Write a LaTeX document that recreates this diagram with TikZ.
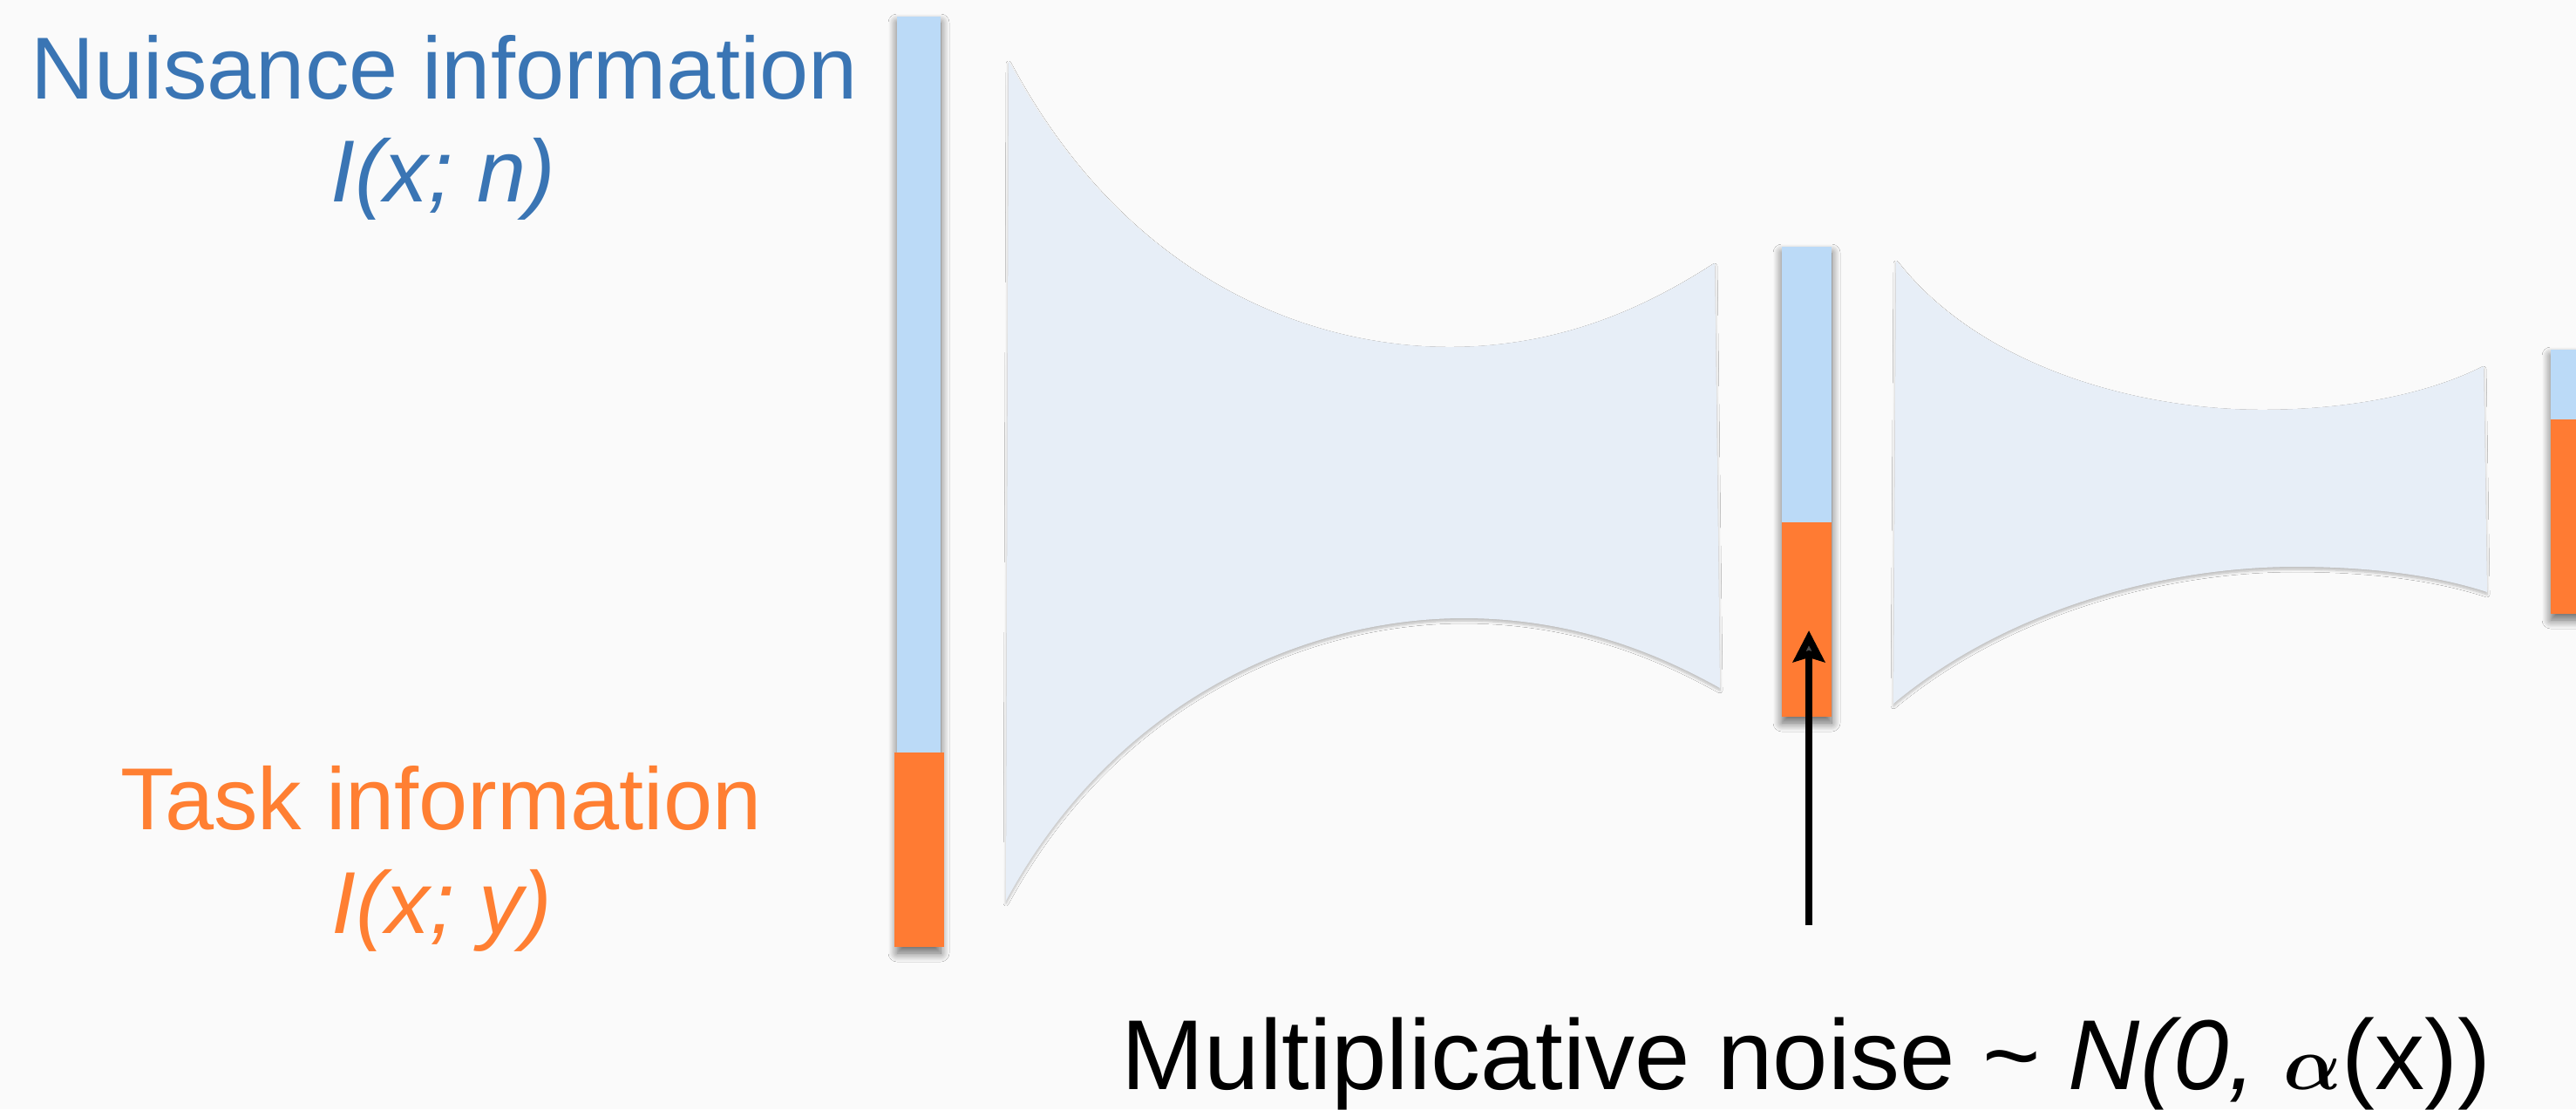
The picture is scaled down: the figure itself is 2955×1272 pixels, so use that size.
\documentclass[tikz,border=0pt]{standalone}
\usepackage{amsmath}
\usepackage{fontspec}
\setmainfont{Liberation Sans}
\usetikzlibrary{arrows.meta,shadows.blur}
\definecolor{bg}{HTML}{FAFAFA}
\definecolor{barblue}{HTML}{BBDAF7}
\definecolor{barorange}{HTML}{FF7B33}
\definecolor{funnelfill}{HTML}{E7EEF7}
\definecolor{txtblue}{HTML}{3A75B4}
\definecolor{txtorange}{HTML}{FF7F32}
\begin{document}
\begin{tikzpicture}[x=0.01cm,y=-0.01cm,
  barshade/.style={blur shadow={shadow xshift=0pt, shadow yshift=-0.07cm, shadow blur radius=0.1cm, shadow opacity=60, shadow blur steps=12}},
  funnelshade/.style={blur shadow={shadow xshift=0pt, shadow yshift=-0.03cm, shadow blur radius=0.03cm, shadow opacity=25, shadow blur steps=6}},
  lbl/.style={anchor=base, inner sep=0pt, font=\fontsize{28.7}{34}\selectfont},
  noisearrow/.style={line width=0.08cm, -{Stealth[length=0.36cm,width=0.36cm,inset=0.05cm]}}
]
\useasboundingbox (0,0) rectangle (2955,1272);
\clip (0,0) rectangle (2955,1272);
\fill[bg] (0,0) rectangle (2955,1272);

% funnels
\path[funnelshade, fill=funnelfill] (1157,70) .. controls (1290,320) and (1500,398) .. (1663,398)
  .. controls (1800,398) and (1900,345) .. (1967,302) -- (1973,789)
  .. controls (1920,760) and (1820,709) .. (1679,709)
  .. controls (1500,709) and (1280,800) .. (1154,1033) -- cycle;
\path[funnelshade, fill=funnelfill] (2175,299) .. controls (2270,420) and (2450,470) .. (2595,470)
  .. controls (2700,470) and (2790,450) .. (2849,420) -- (2853,679)
  .. controls (2810,665) and (2740,650) .. (2633,650)
  .. controls (2480,650) and (2300,700) .. (2172,807) -- cycle;

% bars
\path[barshade, fill=barblue] (1029,19) rectangle (1079,1086);
\fill[barorange] (1026,863) rectangle (1083,1086);
\path[barshade, fill=barblue] (2044,283) rectangle (2101,822);
\fill[barorange] (2044,599) rectangle (2101,822);
\path[barshade, fill=barblue] (2926,401) rectangle (2995,704);
\fill[barorange] (2926,481) rectangle (2995,704);

% labels
\node[lbl, text=txtblue] (nuis) at (510,113) {Nuisance information};
\node[lbl, text=txtblue] (nuisI) at (508,231) {\itshape I(x; n)};
\node[lbl, text=txtorange] (task) at (506,951) {Task information};
\node[lbl, text=txtorange] (taskI) at (507,1070) {\itshape I(x; y)};
\node[anchor=base, inner sep=0pt, font=\fontsize{32.4}{38}\selectfont] (noise) at (2072,1249)
  {Multiplicative noise \textasciitilde{} {\itshape N(0,} $\boldsymbol{\alpha}$(x))};

% arrow
\coordinate (arrowfoot) at (2075,1061);
\coordinate (arrowtip) at (2075,723);
\draw[noisearrow] (arrowfoot) -- (arrowtip);
\end{tikzpicture}
\end{document}
